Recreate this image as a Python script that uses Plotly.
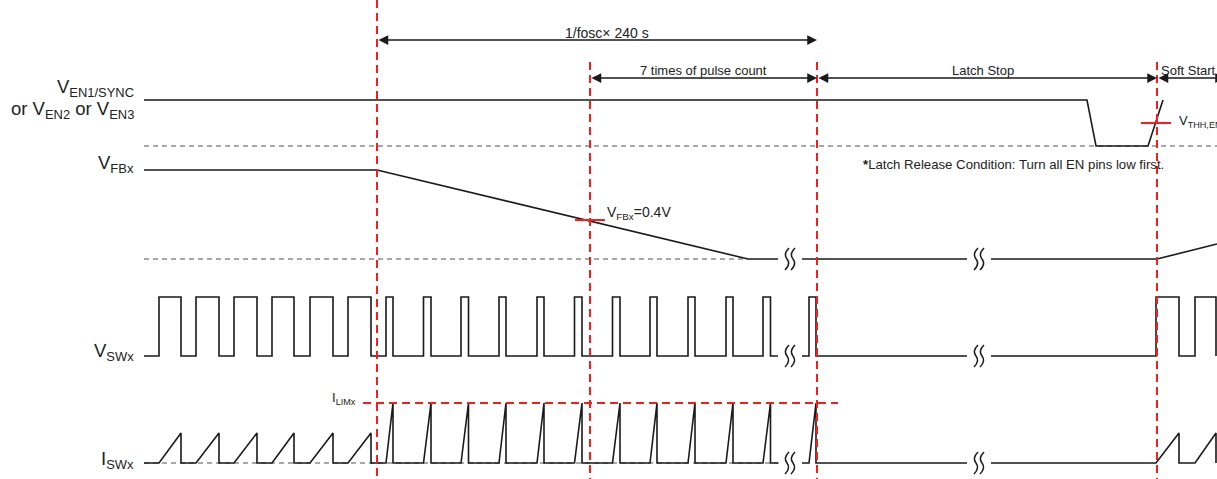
import plotly.graph_objects as go

W, H = 1217, 479

# horizontal time positions (px) of the event markers
t_marks = [377, 590, 817, 1157]
t_mark_top = [0, 62, 62, 62]
x_start = 144
t_vfb_floor = 748
breaks = [790, 979]
gap = 12

# vertical levels of each trace (px, top = 0)
en_hi, en_lo, en_cross = 100, 146, 123
en_fall = [1087, 1096]
en_rise = [1148, 1163]
vfb_hi, vfb_lo, vfb_04, vfb_end = 170, 259, 220, 244
sw_hi, sw_lo = 297, 356
isw_pk, isw_lim, isw_0 = 433, 403, 463

# switching edges: normal, current-limited, soft start
pre_on = [159, 196, 234, 272, 310, 348]
pre_off = [181, 219, 257, 294, 333, 371]
lim_on = [386, 423.5, 461, 499, 537, 574.5, 612.5, 650, 688, 726, 763, 809]
lim_off = [393, 431, 468.5, 506, 544, 582, 620, 657, 695, 733, 770.5, 816]
ss_on = [1156, 1195]
ss_off = [1179, 1216]

BLACK = "#1a1a1a"
RED = "#ff1a1a"
GREY = "#8c8c8c"
FONT = "Liberation Sans, Arial, sans-serif"


def pulses(ons, offs, hi, lo):
    xs, ys = [], []
    for a, b in zip(ons, offs):
        xs += [a, a, b, b]
        ys += [lo, hi, hi, lo]
    return xs, ys


def ramps(ons, offs, pk, lo):
    xs, ys = [], []
    for a, b in zip(ons, offs):
        xs += [a, b, b]
        ys += [lo, pk, lo]
    return xs, ys


def with_breaks(parts, lo):
    # parts: list of (xs, ys) pieces separated by the break marks
    xs, ys = [], []
    for i, (px, py) in enumerate(parts):
        if i > 0:
            xs += [None, breaks[i - 1] + gap]
            ys += [None, lo]
        xs += px
        ys += py
        if i < len(parts) - 1:
            xs += [breaks[i] - gap]
            ys += [lo]
    return xs, ys


fig = go.Figure()

# V_EN
fig.add_trace(go.Scatter(
    x=[x_start, en_fall[0], en_fall[1], en_rise[0], en_rise[1]],
    y=[en_hi, en_hi, en_lo, en_lo, en_hi],
    mode="lines", line=dict(color=BLACK, width=1.6), hoverinfo="skip"))

# V_FB
vx, vy = with_breaks([([x_start, t_marks[0], t_vfb_floor], [vfb_hi, vfb_hi, vfb_lo]),
                      ([], []),
                      ([t_marks[3], W], [vfb_lo, vfb_end])], vfb_lo)
fig.add_trace(go.Scatter(x=vx, y=vy, mode="lines",
                         line=dict(color=BLACK, width=1.6), hoverinfo="skip"))

# V_SW
p1 = pulses(pre_on + lim_on[:-1], pre_off + lim_off[:-1], sw_hi, sw_lo)
p2 = pulses(lim_on[-1:], lim_off[-1:], sw_hi, sw_lo)
p3 = pulses(ss_on, ss_off, sw_hi, sw_lo)
sx, sy = with_breaks([([x_start] + p1[0], [sw_lo] + p1[1]), p2, p3], sw_lo)
fig.add_trace(go.Scatter(x=sx, y=sy, mode="lines",
                         line=dict(color=BLACK, width=1.6), hoverinfo="skip"))

# I_SW
r0 = ramps(pre_on, pre_off, isw_pk, isw_0)
r1 = ramps(lim_on[:-1], lim_off[:-1], isw_lim, isw_0)
r2 = ramps(lim_on[-1:], lim_off[-1:], isw_lim, isw_0)
r3 = ramps(ss_on, ss_off, isw_pk, isw_0)
ix, iy = with_breaks([([x_start] + r0[0] + r1[0], [isw_0] + r0[1] + r1[1]), r2, r3], isw_0)

# grey reference lines
grey_lines = [(x_start, W, en_lo), (x_start, t_vfb_floor, vfb_lo), (x_start, 780, isw_0)]
for x0, x1, yy in grey_lines:
    fig.add_shape(type="line", x0=x0, x1=x1, y0=yy, y1=yy,
                  line=dict(color=GREY, width=1.5, dash="5px,4px"), layer="below")

fig.add_trace(go.Scatter(x=ix, y=iy, mode="lines",
                         line=dict(color=BLACK, width=1.6), hoverinfo="skip"))

# red markers
for xm, yt in zip(t_marks, t_mark_top):
    fig.add_shape(type="line", x0=xm, x1=xm, y0=yt, y1=H,
                  line=dict(color=RED, width=2, dash="8px,5px"))
fig.add_shape(type="line", x0=363, x1=838, y0=isw_lim, y1=isw_lim,
              line=dict(color=RED, width=2, dash="8px,5px"))
fig.add_shape(type="line", x0=t_marks[1] - 15, x1=t_marks[1] + 15, y0=vfb_04, y1=vfb_04,
              line=dict(color=RED, width=2))
fig.add_shape(type="line", x0=t_marks[3] - 16, x1=t_marks[3] + 14, y0=en_cross, y1=en_cross,
              line=dict(color=RED, width=2))

# break marks
break_rows = [vfb_lo, sw_lo, isw_0]
for bx in breaks:
    for yc in break_rows:
        for dx in (-3, 3):
            x0 = bx + dx
            path = (f"M {x0 + 2},{yc - 11} Q {x0 - 4},{yc - 5} {x0},{yc} "
                    f"Q {x0 + 4},{yc + 5} {x0 - 2},{yc + 11}")
            fig.add_shape(type="path", path=path, line=dict(color=BLACK, width=1.5))

# interval arrows
arrows = [(t_marks[0], t_marks[2], 40), (t_marks[1], t_marks[2], 78),
          (t_marks[2], t_marks[3], 78), (t_marks[3], W + 8, 78)]
for a, b, yy in arrows:
    fig.add_annotation(x=b, y=yy, ax=a, ay=yy, xref="x", yref="y", axref="x", ayref="y",
                       text="", showarrow=True, arrowhead=2, arrowside="end+start",
                       arrowsize=1.3, arrowwidth=1.5, arrowcolor=BLACK)

texts = [
    (607, 33, "1/fosc× 240 s", 14, "center"),
    (703, 70, "7 times of pulse count", 13, "center"),
    (983, 70, "Latch Stop", 13, "center"),
    (1159, 70, "Soft Start", 13, "left"),
    (861, 164, "<b>*</b>Latch Release Condition: Turn all EN pins low first.", 13.2, "left"),
    (605, 213, "V<sub>FBx</sub>=0.4V", 14, "left"),
    (1177, 121, "V<sub>THH,ENx</sub>", 13, "left"),
    (358, 398, "I<sub>LIMx</sub>", 13, "right"),
    (136, 88, "V<sub>EN1/SYNC</sub>", 18.5, "right"),
    (136, 110, "or V<sub>EN2</sub> or V<sub>EN3</sub>", 18.5, "right"),
    (136, 164, "V<sub>FBx</sub>", 18.5, "right"),
    (136, 352, "V<sub>SWx</sub>", 18.5, "right"),
    (136, 460, "I<sub>SWx</sub>", 18.5, "right"),
]
for tx, ty, s, fs, anchor in texts:
    fig.add_annotation(x=tx, y=ty, xref="x", yref="y", text=s, showarrow=False,
                       xanchor=anchor, yanchor="middle",
                       font=dict(family=FONT, size=fs, color="#222222"))

fig.update_layout(
    width=W, height=H,
    margin=dict(l=0, r=0, t=0, b=0),
    paper_bgcolor="white", plot_bgcolor="white",
    showlegend=False,
    xaxis=dict(range=[0, W], visible=False, fixedrange=True),
    yaxis=dict(range=[H, 0], visible=False, fixedrange=True),
)

fig.write_html("out.html", config={"displayModeBar": False},
               post_script="document.body.style.margin='0px';")
